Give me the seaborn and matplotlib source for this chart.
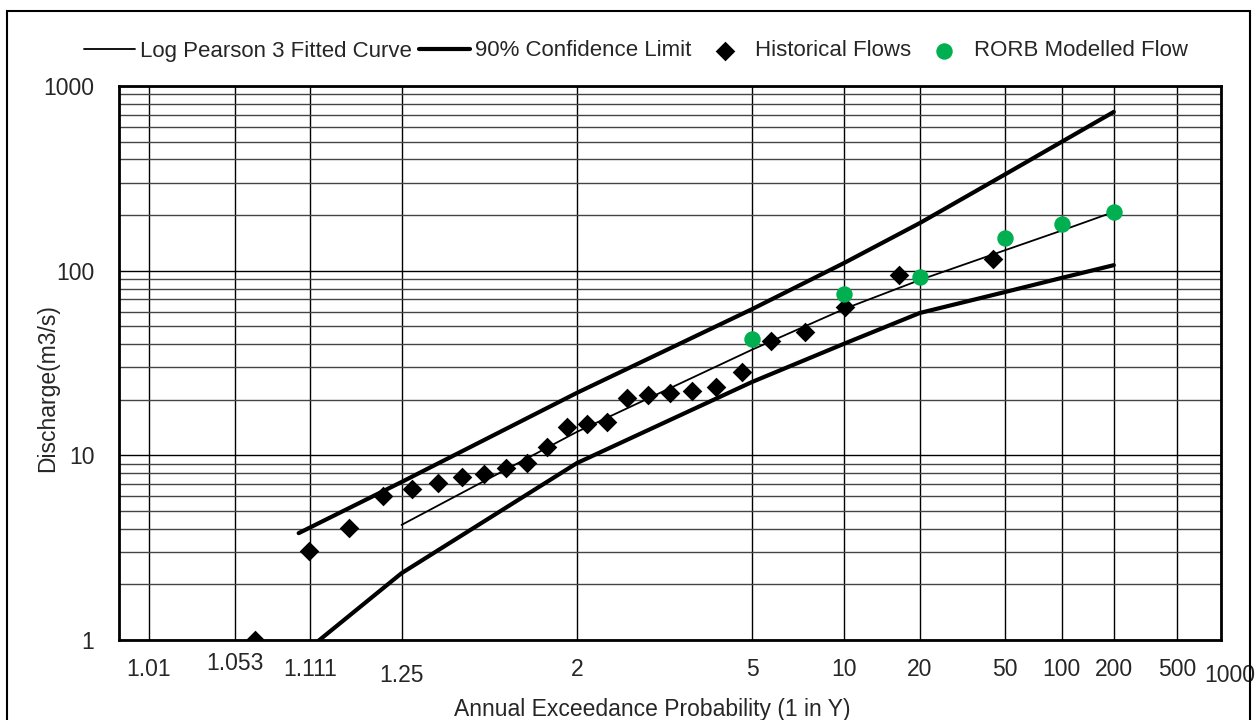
import numpy as np
import pandas as pd
import seaborn as sns
import matplotlib
matplotlib.use('Agg')
import matplotlib.pyplot as plt
from matplotlib.patches import Rectangle
from matplotlib.transforms import ScaledTranslation
from matplotlib.ticker import FixedLocator, FixedFormatter, NullLocator, NullFormatter, LogLocator
from statistics import NormalDist

# Values: ARI (1 in Y years) and discharge (m3/s)
hist_ari = [43.667, 16.375, 10.077, 7.278, 5.696, 4.679, 3.970, 3.447, 3.047,
            2.729, 2.472, 2.259, 2.079, 1.926, 1.795, 1.679, 1.578, 1.489,
            1.409, 1.337, 1.272, 1.213, 1.159, 1.110, 1.065]
hist_q = [115.0, 94.2, 63.7, 46.6, 41.5, 28.2, 23.5, 22.2, 21.8,
          21.3, 20.5, 15.2, 14.7, 14.2, 11.1, 9.04, 8.57, 7.92,
          7.63, 7.04, 6.59, 6.04, 4.03, 3.04, 1.0]

fit_ari = [1.25, 2, 5, 10, 20, 50, 100, 200]
fit_q = [4.2, 13.4, 37.4, 62.0, 89.0, 129.0, 165.0, 208.0]

upper_ari = [1.1, 1.25, 2, 5, 10, 20, 50, 100, 200]
upper_q = [3.79, 7.17, 21.8, 62.0, 110.0, 181.0, 332.0, 499.0, 724.0]

lower_ari = [1.1, 1.25, 2, 5, 10, 20, 50, 100, 200]
lower_q = [0.81, 2.30, 9.08, 25.0, 40.2, 59.0, 76.6, 91.4, 107.1]

rorb_ari = [5, 10, 20, 50, 100, 200]
rorb_q = [42.7, 74.3, 92.2, 149.5, 178.7, 207.7]

x_ticks = [1.0204, 1.053, 1.111, 1.25, 2, 5, 10, 20, 50, 100, 200, 500, 1000]
x_labels = ['1.01', '1.053', '1.111', '1.25', '2', '5', '10', '20', '50',
            '100', '200', '500', '1000']
y_ticks = [1, 10, 100, 1000]
y_labels = ['1', '10', '100', '1000']

# normal probability scale for the x axis
ND = NormalDist()
_ppf = np.vectorize(ND.inv_cdf, otypes=[float])
_cdf = np.vectorize(ND.cdf, otypes=[float])


def ari_to_z(ari):
    ari = np.asarray(ari, dtype=float)
    aep = 1.0 / np.clip(ari, 1.000001, 1e9)
    return _ppf(np.clip(1.0 - aep, 1e-9, 1 - 1e-9))


def z_to_ari(z):
    z = np.asarray(z, dtype=float)
    return 1.0 / np.clip(1.0 - _cdf(z), 1e-12, None)


sns.set_style('white')
plt.rcParams['font.family'] = ['Liberation Sans', 'DejaVu Sans']
FS = 16.5

fit_df = pd.DataFrame({'ari': fit_ari, 'q': fit_q})
upper_df = pd.DataFrame({'ari': upper_ari, 'q': upper_q})
lower_df = pd.DataFrame({'ari': lower_ari, 'q': lower_q})
hist_df = pd.DataFrame({'ari': hist_ari, 'q': hist_q})
rorb_df = pd.DataFrame({'ari': rorb_ari, 'q': rorb_q})

fig = plt.figure(figsize=(12.55, 7.2), dpi=100)
ax = fig.add_axes([119 / 1255, 80 / 720, 1102 / 1255, 554 / 720])

sns.lineplot(data=fit_df, x='ari', y='q', ax=ax, color='black', lw=1.3,
             sort=False, estimator=None, legend=False,
             label='Log Pearson 3 Fitted Curve')
sns.lineplot(data=upper_df, x='ari', y='q', ax=ax, color='black', lw=3.0,
             sort=False, estimator=None, legend=False,
             label='90% Confidence Limit')
sns.lineplot(data=lower_df, x='ari', y='q', ax=ax, color='black', lw=3.0,
             sort=False, estimator=None, legend=False, label='_nolegend_')
sns.scatterplot(data=hist_df, x='ari', y='q', ax=ax, marker='D', s=100,
                color='black', linewidth=0, legend=False, zorder=3,
                label='Historical Flows')
sns.scatterplot(data=rorb_df, x='ari', y='q', ax=ax, marker='o', s=140,
                color='#00B050', linewidth=0, legend=False, zorder=4,
                label='RORB Modelled Flow')

ax.set_xscale('function', functions=(ari_to_z, z_to_ari))
ax.set_yscale('log')
ax.set_xlim(1.0142, 1000)
ax.set_ylim(1, 1000)

ax.xaxis.set_major_locator(FixedLocator(x_ticks))
ax.xaxis.set_major_formatter(FixedFormatter(x_labels))
ax.xaxis.set_minor_locator(NullLocator())
ax.yaxis.set_major_locator(FixedLocator(y_ticks))
ax.yaxis.set_major_formatter(FixedFormatter(y_labels))
ax.yaxis.set_minor_locator(LogLocator(base=10, subs=range(2, 10)))
ax.yaxis.set_minor_formatter(NullFormatter())

ax.set_axisbelow(True)
ax.grid(True, which='major', color='black', lw=1.0)
ax.grid(True, which='minor', axis='y', color='#444444', lw=1.0)

ax.tick_params(axis='y', which='both', direction='inout', length=8.6,
               width=1.6, color='black', pad=13.5, labelsize=FS)
ax.tick_params(axis='x', which='both', length=0, pad=13, labelsize=FS)

# the chart's x labels sit slightly staggered; nudge a few (points)
nudge = {'1.053': (0, 4), '1.25': (0, -4), '1000': (6, -4)}
for tick, txt in zip(ax.xaxis.get_major_ticks(), x_labels):
    if txt in nudge:
        dx, dy = nudge[txt]
        lab = tick.label1
        lab.set_transform(lab.get_transform() +
                          ScaledTranslation(dx / 72, dy / 72, fig.dpi_scale_trans))

for s in ax.spines.values():
    s.set_visible(True)
    s.set_color('black')
    s.set_linewidth(2.0)

ax.set_xlabel('Annual Exceedance Probability (1 in Y)', fontsize=FS)
ax.xaxis.set_label_coords(0.4837, -0.105)
ax.set_ylabel('Discharge(m3/s)', fontsize=FS)
ax.yaxis.set_label_coords(-0.0544, 0.455)

handles, labels = ax.get_legend_handles_labels()
fig.legend(handles, labels, loc='center', bbox_to_anchor=(636 / 1255, 1 - 51 / 720),
           ncol=4, frameon=False, fontsize=16, handlelength=2.3,
           handletextpad=0.2, columnspacing=0.35, borderaxespad=0,
           borderpad=0)

# outer chart border (bottom edge runs off the image)
fig.add_artist(Rectangle((7 / 1255, -0.1), (1250 - 7) / 1255, 1 - 11 / 720 + 0.1,
                         transform=fig.transFigure, fill=False,
                         ec='black', lw=1.5, clip_on=False))

fig.savefig('out.png', dpi=100)
